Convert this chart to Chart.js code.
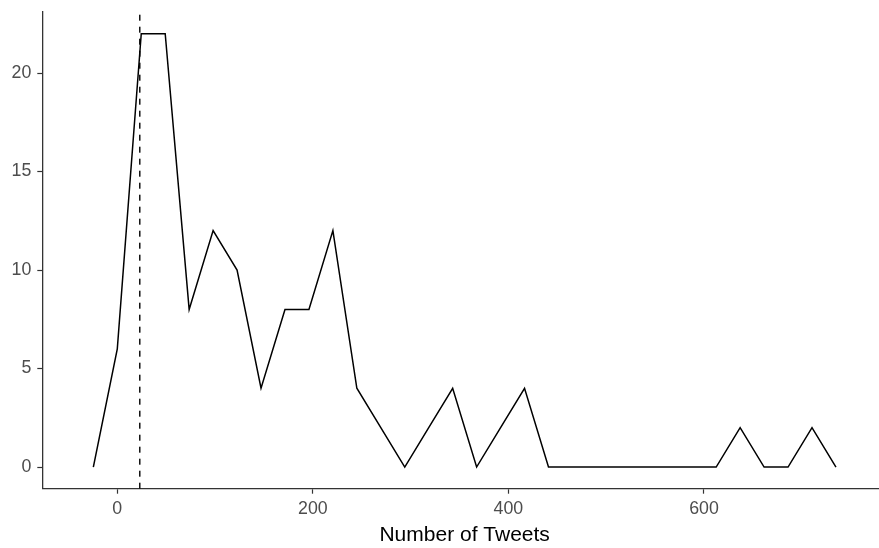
<!DOCTYPE html>
<html>
<head>
<meta charset="utf-8">
<title>Number of Tweets</title>
<script src="https://cdn.jsdelivr.net/npm/chart.js@4.4.1/dist/chart.umd.min.js"></script>
<style>
  html, body { margin: 0; padding: 0; background: #ffffff; overflow: hidden; }
  #wrap { width: 879px; height: 548px; overflow: hidden; position: relative; }
  canvas { display: block; }
</style>
</head>
<body>
<div id="wrap"><canvas id="chart" width="887" height="548"></canvas></div>
<script>
// Frequency polygon: bin midpoints and tweet counts per bin
const binMids = [-24.5, 0, 24.5, 49, 73.5, 98, 122.5, 147, 171.5, 196, 220.5, 245,
  269.5, 294, 318.5, 343, 367.5, 392, 416.5, 441, 465.5, 490, 514.5, 539, 563.5,
  588, 612.5, 637, 661.5, 686, 710.5, 735];
const counts = [0, 6, 22, 22, 8, 12, 10, 4, 8, 8, 12, 4,
  2, 0, 2, 4, 0, 2, 4, 0, 0, 0, 0, 0, 0,
  0, 0, 2, 0, 0, 2, 0];

// Reference marker (dashed vertical line)
const markerX = 23;

// Axis ticks and ranges
const xTicks = [0, 200, 400, 600];
const yTicks = [0, 5, 10, 15, 20];
const xRange = [-76.7, 787.2];
const yRange = [-1.1, 23.1];

const FONT = '"Liberation Sans", Arial, Helvetica, sans-serif';

const lineData = binMids.map((x, i) => ({ x: x, y: counts[i] }));
const markerData = [{ x: markerX, y: yRange[0] }, { x: markerX, y: yRange[1] }];

// Fixed axis sizes; drop the label overhang padding so the plot area is exact
function fixSize(prop, size) {
  return (s) => {
    s[prop] = size;
    s.paddingTop = 0; s.paddingBottom = 0;
    s.paddingLeft = 0; s.paddingRight = 0;
  };
}

new Chart(document.getElementById('chart'), {
  type: 'line',
  data: {
    datasets: [
      {
        data: lineData,
        borderColor: '#000000',
        borderWidth: 1.5,
        pointRadius: 0,
        tension: 0,
        fill: false
      },
      {
        data: markerData,
        borderColor: '#000000',
        borderWidth: 1.4,
        borderDash: [6, 6],
        pointRadius: 0,
        fill: false
      }
    ]
  },
  options: {
    responsive: false,
    animation: false,
    devicePixelRatio: 1,
    layout: { padding: { top: 12, right: 0, bottom: 0, left: 0 } },
    plugins: {
      legend: { display: false },
      tooltip: { enabled: false }
    },
    scales: {
      x: {
        type: 'linear',
        min: xRange[0],
        max: xRange[1],
        afterBuildTicks: (s) => { s.ticks = xTicks.map(v => ({ value: v })); },
        afterFit: fixSize('height', 59.3),
        grid: {
          drawOnChartArea: false,
          drawTicks: true,
          tickLength: 5,
          tickColor: '#333333',
          tickWidth: 1.2
        },
        border: { display: true, color: '#333333', width: 1.3 },
        ticks: {
          color: '#4D4D4D',
          padding: 5,
          maxRotation: 0,
          font: { family: FONT, size: 17.8 }
        },
        title: {
          display: true,
          text: 'Number of Tweets',
          color: '#000000',
          padding: { top: 0, bottom: 0 },
          font: { family: FONT, size: 21 }
        }
      },
      y: {
        type: 'linear',
        min: yRange[0],
        max: yRange[1],
        afterBuildTicks: (s) => { s.ticks = yTicks.map(v => ({ value: v })); },
        afterFit: fixSize('width', 42.3),
        grid: {
          drawOnChartArea: false,
          drawTicks: true,
          tickLength: 5,
          tickColor: '#333333',
          tickWidth: 1.2
        },
        border: { display: true, color: '#333333', width: 1.3 },
        ticks: {
          color: '#4D4D4D',
          padding: 6,
          font: { family: FONT, size: 17.8 }
        }
      }
    }
  }
});
</script>
</body>
</html>
